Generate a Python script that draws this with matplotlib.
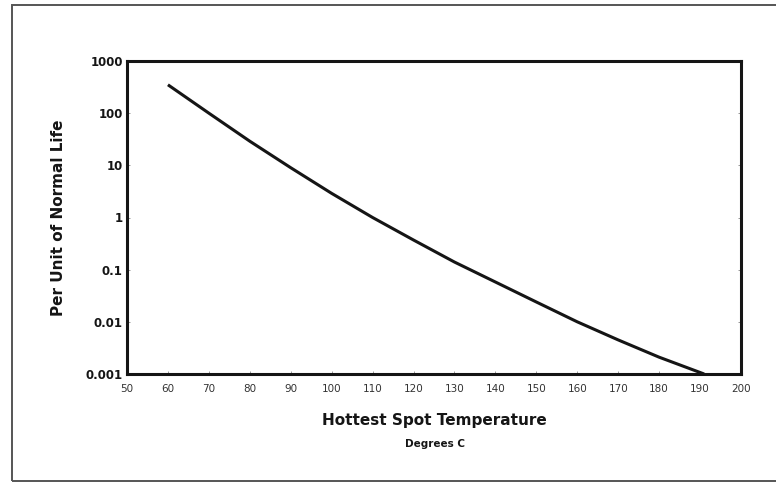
import matplotlib
matplotlib.use("Agg")
import matplotlib.pyplot as plt
from matplotlib.patches import Rectangle

# hottest-spot temperature (deg C) vs per-unit normal insulation life
temps = [60, 70, 80, 90, 100, 110, 120, 130, 140, 150, 160, 170, 180, 191]
life = [350, 100, 29, 9.0, 2.9, 1.0, 0.37, 0.14, 0.058, 0.024, 0.010, 0.0045, 0.0021, 0.001]

x_ticks = [50, 60, 70, 80, 90, 100, 110, 120, 130, 140, 150, 160, 170, 180, 190, 200]
y_ticks = [1000, 100, 10, 1, 0.1, 0.01, 0.001]
y_labels = ["1000", "100", "10", "1", "0.1", "0.01", "0.001"]

ink = "#151515"

fig = plt.figure(figsize=(7.76, 4.82), dpi=100)
fig.patch.set_facecolor("white")

# outer frame around the figure
frame = Rectangle((12 / 776, 1 / 482), 1.0, 476 / 482, transform=fig.transFigure,
                  fill=False, edgecolor="#555555", linewidth=1.4, clip_on=False)
fig.add_artist(frame)

ax = fig.add_axes([127 / 776, 1 - 374 / 482, 614 / 776, 313 / 482])
ax.plot(temps, life, color=ink, linewidth=2.2, solid_capstyle="butt")

ax.set_yscale("log")
ax.set_xlim(50, 200)
ax.set_ylim(0.001, 1000)

ax.set_xticks(x_ticks)
ax.set_xticklabels([str(t) for t in x_ticks])
ax.set_yticks(y_ticks)
ax.set_yticklabels(y_labels)
ax.minorticks_off()

ax.tick_params(axis="x", direction="in", length=2, width=0.6, pad=7,
               labelsize=7.5, labelcolor="#333333", color="#888888")
ax.tick_params(axis="y", direction="in", length=2, width=0.6, pad=3,
               labelsize=8.5, labelcolor=ink, color="#888888", right=True)
for lbl in ax.get_yticklabels():
    lbl.set_fontweight("bold")

for sp in ax.spines.values():
    sp.set_linewidth(2.2)
    sp.set_color(ink)

ax.set_ylabel("Per Unit of Normal Life", fontsize=11, fontweight="bold",
              color=ink, labelpad=14)
fig.text(434 / 776, 1 - 420 / 482, "Hottest Spot Temperature", ha="center", va="center",
         fontsize=11, fontweight="bold", color=ink)
fig.text(435 / 776, 1 - 444 / 482, "Degrees C", ha="center", va="center",
         fontsize=7.5, fontweight="bold", color=ink)

fig.savefig("out.png", dpi=100)
